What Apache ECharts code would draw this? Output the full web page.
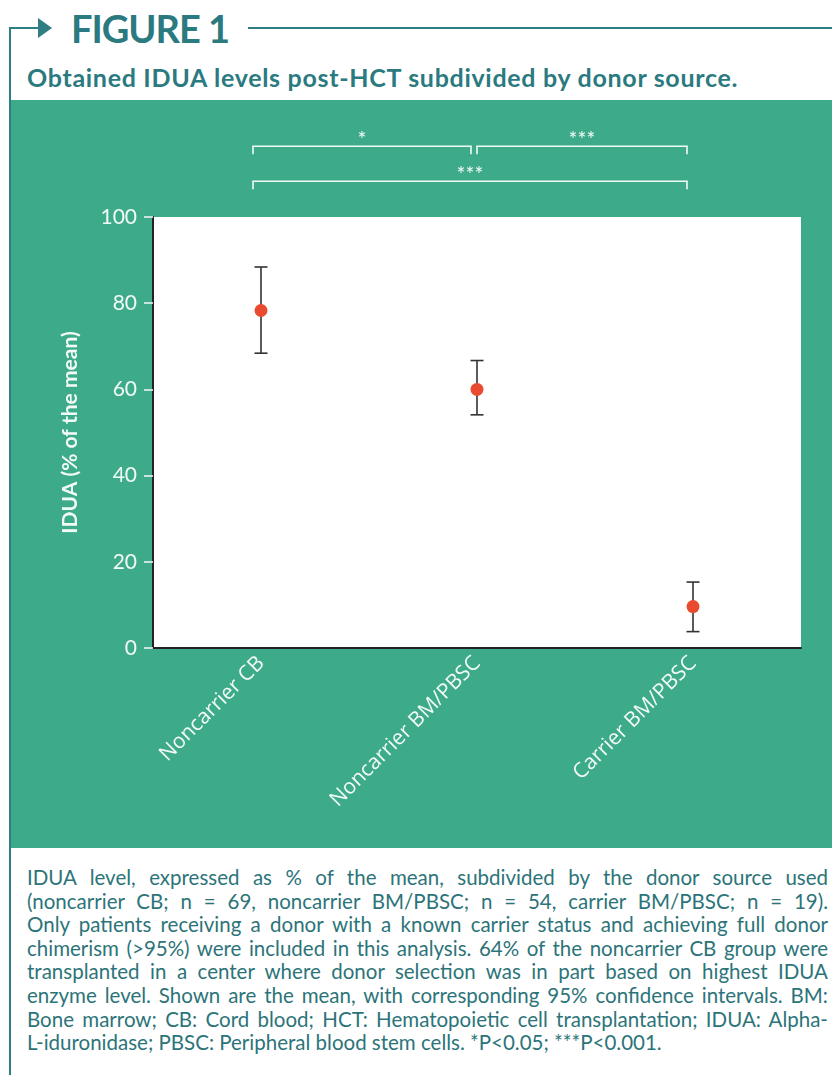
<!DOCTYPE html>
<html>
<head>
<meta charset="utf-8">
<script src="https://cdn.jsdelivr.net/npm/echarts@6/dist/echarts.min.js"></script>
<style>
  html, body { margin:0; padding:0; background:#fff; }
  body { width:832px; height:1075px; position:relative; overflow:hidden; font-family: Lato, 'Open Sans', sans-serif; }
  #vline { position:absolute; left:9px; top:27px; width:2px; height:1048px; background:#2E7E83; }
  #hl1 { position:absolute; left:9px; top:27px; width:32px; height:2px; background:#2E7E83; }
  #arrow { position:absolute; left:38px; top:18px; width:0; height:0; border-top:10px solid transparent; border-bottom:10px solid transparent; border-left:14px solid #2E7E83; }
  #hl2 { position:absolute; left:248px; top:27px; width:584px; height:2px; background:#2E7E83; }
  #fig { position:absolute; left:71px; top:5px; font-size:38px; font-weight:bold; color:#2A7A7F; letter-spacing:-1px; line-height:46px; }
  #sub { position:absolute; left:27px; top:62px; font-size:25px; font-weight:bold; color:#2A7A7F; line-height:30px; letter-spacing:0.7px; white-space:nowrap; }
  #chart { position:absolute; left:11px; top:100px; width:821px; height:748px; background:#3DAA8A; }
  #cap { position:absolute; left:27px; top:866px; width:801px; font-size:20.5px; color:#2C7479; line-height:23.6px; }
  #cap div { text-align:justify; text-align-last:justify; white-space:nowrap; }
  #cap div.last { text-align-last:left; }
</style>
</head>
<body>
<div id="vline"></div><div id="hl1"></div><div id="arrow"></div><div id="hl2"></div>
<div id="fig">FIGURE 1</div>
<div id="sub">Obtained IDUA levels post-HCT subdivided by donor source.</div>
<div id="chart"></div>
<div id="cap"></div>
<script>
// ---- data ----
const categories = ['Noncarrier CB', 'Noncarrier BM/PBSC', 'Carrier BM/PBSC'];
const means = [78.3, 60.0, 9.6];
const ciLow = [68.4, 54.1, 3.8];
const ciHigh = [88.4, 66.7, 15.3];
const yMin = 0, yMax = 100, yInterval = 20;
const bracketFrom = [0, 1, 0];
const bracketTo = [1, 2, 2];
const bracketLevel = [116.4, 116.4, 108.3];
const bracketLabel = ['*', '***', '***'];
const yAxisName = 'IDUA (% of the mean)';
const captionLines = [
  'IDUA level, expressed as % of the mean, subdivided by the donor source used',
  '(noncarrier CB; n = 69, noncarrier BM/PBSC; n = 54, carrier BM/PBSC; n = 19).',
  'Only patients receiving a donor with a known carrier status and achieving full donor',
  'chimerism (>95%) were included in this analysis. 64% of the noncarrier CB group were',
  'transplanted in a center where donor selection was in part based on highest IDUA',
  'enzyme level. Shown are the mean, with corresponding 95% confidence intervals. BM:',
  'Bone marrow; CB: Cord blood; HCT: Hematopoietic cell transplantation; IDUA: Alpha-',
  'L-iduronidase; PBSC: Peripheral blood stem cells. *P<0.05; ***P<0.001.'
];

const cap = document.getElementById('cap');
captionLines.forEach((t, i) => {
  const d = document.createElement('div');
  d.textContent = t;
  if (i === captionLines.length - 1) d.className = 'last';
  cap.appendChild(d);
});

const chart = echarts.init(document.getElementById('chart'), null, { renderer: 'canvas' });
const errData = categories.map((c, i) => [i, ciLow[i], ciHigh[i]]);
const brData = bracketFrom.map((f, i) => [f, bracketTo[i], bracketLevel[i], i]);
const white = '#F2FAF6';

chart.setOption({
  animation: false,
  backgroundColor: '#3DAA8A',
  grid: { left: 142, right: 31, top: 117, bottom: 200, show: true, backgroundColor: '#ffffff', borderWidth: 0 },
  xAxis: {
    type: 'category',
    data: categories,
    boundaryGap: true,
    axisLine: { show: true, lineStyle: { color: '#222', width: 2 } },
    axisTick: { show: false },
    axisLabel: { rotate: 45, color: white, fontSize: 21, fontFamily: 'Open Sans', margin: 12 },
    splitLine: { show: false }
  },
  yAxis: {
    type: 'value',
    min: yMin, max: yMax, interval: yInterval,
    name: yAxisName,
    nameLocation: 'middle',
    nameGap: 72,
    nameTextStyle: { color: white, fontSize: 21, fontWeight: 'bold', fontFamily: 'Lato' },
    axisLine: { show: true, lineStyle: { color: '#222', width: 2 } },
    axisTick: { show: true, length: 9, lineStyle: { color: white, width: 1.5 } },
    axisLabel: { color: white, fontSize: 21, fontFamily: 'Lato', margin: 16 },
    splitLine: { show: false }
  },
  series: [
    {
      type: 'custom',
      name: 'ci',
      data: errData,
      encode: { x: 0, y: [1, 2] },
      renderItem: function (params, api) {
        const x = api.value(0);
        const lo = api.coord([x, api.value(1)]);
        const hi = api.coord([x, api.value(2)]);
        const hw = 6.5;
        const st = { stroke: '#333', lineWidth: 1.6 };
        return {
          type: 'group',
          children: [
            { type: 'line', shape: { x1: lo[0], y1: lo[1], x2: hi[0], y2: hi[1] }, style: st },
            { type: 'line', shape: { x1: lo[0] - hw, y1: lo[1], x2: lo[0] + hw, y2: lo[1] }, style: st },
            { type: 'line', shape: { x1: hi[0] - hw, y1: hi[1], x2: hi[0] + hw, y2: hi[1] }, style: st }
          ]
        };
      },
      z: 2
    },
    {
      type: 'scatter',
      data: means.map((m, i) => [i, m]),
      symbol: 'circle',
      symbolSize: 13,
      itemStyle: { color: '#E84B30', opacity: 1 },
      z: 3
    },
    {
      type: 'custom',
      name: 'brackets',
      clip: false,
      silent: true,
      data: brData,
      encode: { x: [0, 1], y: 2 },
      renderItem: function (params, api) {
        const f = api.value(0), t = api.value(1), lvl = api.value(2);
        const idx = api.value(3);
        const a = api.coord([f, lvl]);
        const b = api.coord([t, lvl]);
        const x1 = a[0] + (f === 0 ? -8 : 0);
        const x2 = b[0] - 6;
        const y = a[1];
        const tk = 8;
        const st = { stroke: white, lineWidth: 1.6, fill: null };
        return {
          type: 'group',
          children: [
            { type: 'polyline', shape: { points: [[x1, y + tk], [x1, y], [x2, y], [x2, y + tk]] }, style: st },
            { type: 'text', x: (x1 + x2) / 2, y: y - 6,
              style: { text: bracketLabel[idx], fill: white, fontSize: 21, fontFamily: 'Lato', align: 'center', verticalAlign: 'middle' } }
          ]
        };
      },
      z: 4
    }
  ]
});
</script>
</body>
</html>
